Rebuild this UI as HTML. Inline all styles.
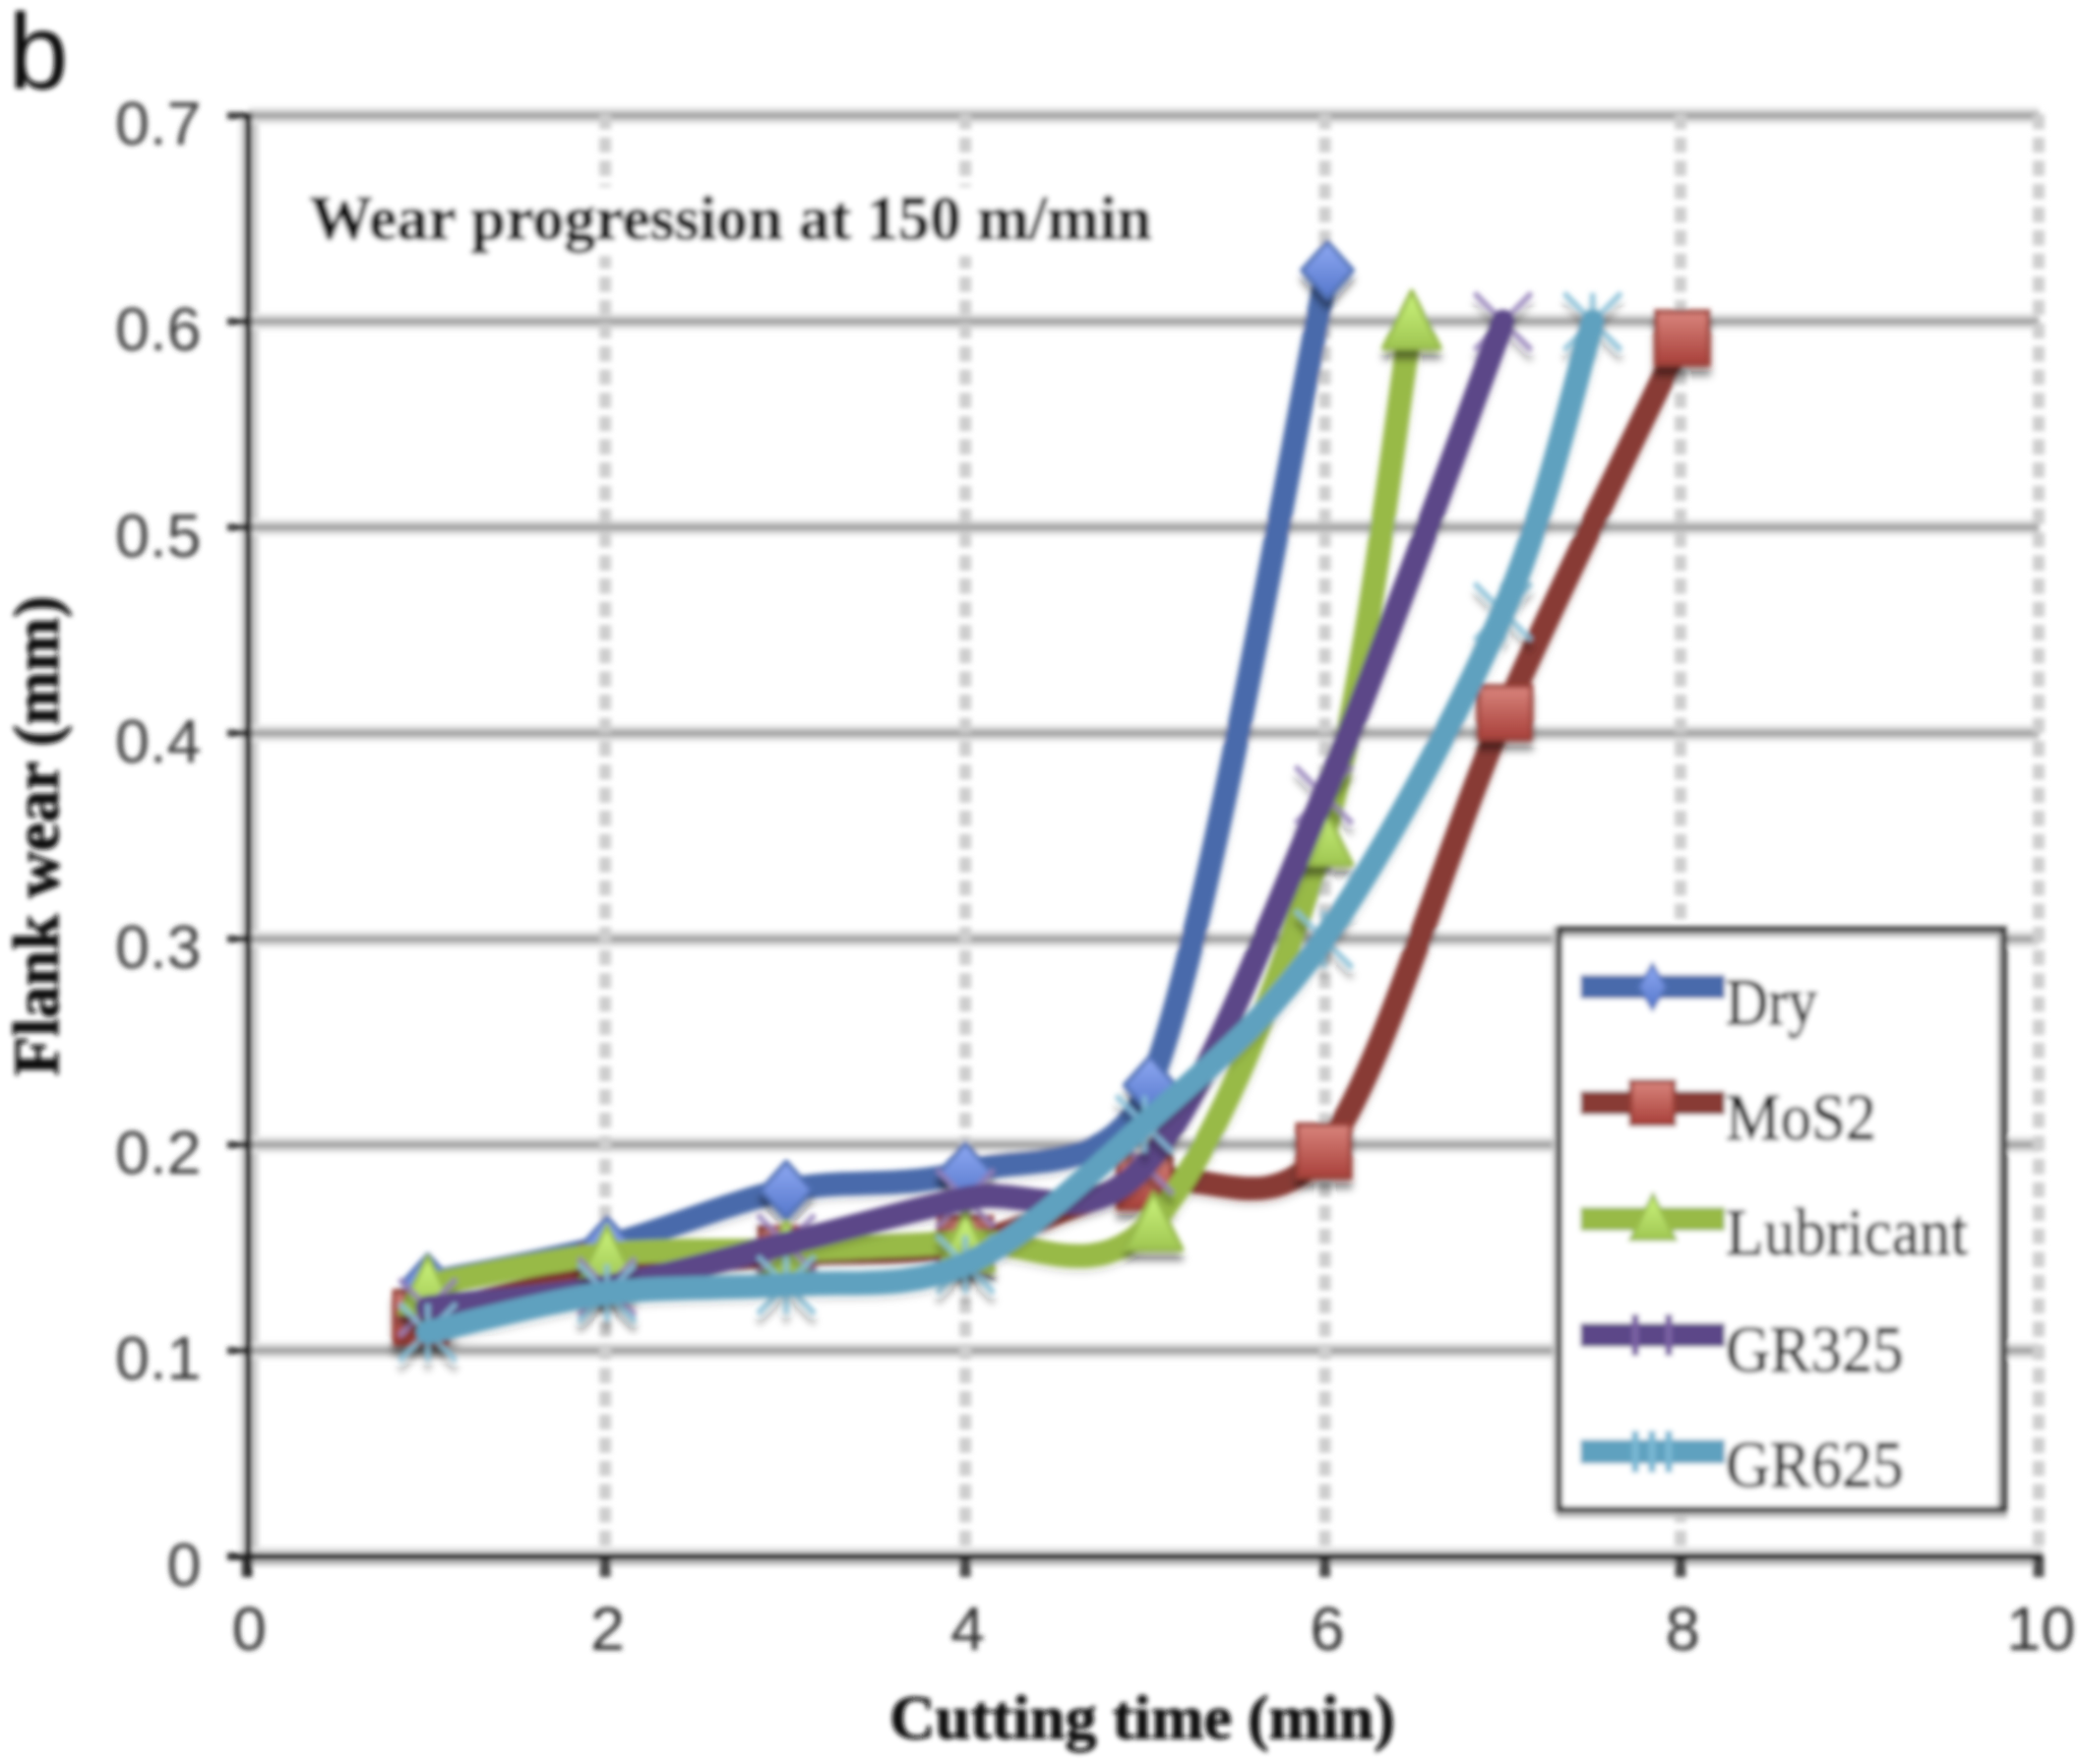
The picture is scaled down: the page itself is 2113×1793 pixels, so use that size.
<!DOCTYPE html>
<html lang="en"><head><meta charset="utf-8"><title>Wear progression at 150 m/min</title>
<style>html,body{margin:0;padding:0;background:#fff}body{width:2113px;height:1793px;overflow:hidden}svg{display:block}.ser{font-family:"Liberation Serif",serif}.san{font-family:"Liberation Sans",sans-serif}</style></head><body>
<svg width="2113" height="1793" viewBox="0 0 2113 1793">
<defs>
<linearGradient id="gD" x1="0" y1="0" x2="0" y2="1"><stop offset="0" stop-color="#8fa9f2"/><stop offset="1" stop-color="#5577cc"/></linearGradient>
<linearGradient id="gS" x1="0" y1="0" x2="0" y2="1"><stop offset="0" stop-color="#d9857d"/><stop offset="1" stop-color="#a8403a"/></linearGradient>
<linearGradient id="gT" x1="0" y1="0" x2="0" y2="1"><stop offset="0" stop-color="#cdf57e"/><stop offset="1" stop-color="#9fc652"/></linearGradient>
<filter id="shm" x="-20%" y="-20%" width="140%" height="160%"><feGaussianBlur in="SourceAlpha" stdDeviation="3"/><feOffset dx="0" dy="10" result="b"/><feComponentTransfer><feFuncA type="linear" slope="0.42"/></feComponentTransfer><feMerge><feMergeNode/><feMergeNode in="SourceGraphic"/></feMerge></filter>
<filter id="shl" x="-5%" y="-5%" width="110%" height="110%"><feGaussianBlur in="SourceAlpha" stdDeviation="3"/><feOffset dx="0" dy="5" result="b"/><feComponentTransfer><feFuncA type="linear" slope="0.16"/></feComponentTransfer><feMerge><feMergeNode/><feMergeNode in="SourceGraphic"/></feMerge></filter>
<filter id="soft" x="-2%" y="-2%" width="104%" height="104%"><feGaussianBlur stdDeviation="2.7"/></filter>
</defs>
<rect width="2113" height="1793" fill="#fff"/>
<g filter="url(#soft)">
<line x1="259.5" y1="115.6" x2="259.5" y2="1585.0" stroke="#cdcdcd" stroke-width="6"/>
<line x1="252.6" y1="1372.8" x2="2072.3" y2="1372.8" stroke="#e6e6e6" stroke-width="17"/>
<line x1="252.6" y1="1372.8" x2="2072.3" y2="1372.8" stroke="#a8a8a8" stroke-width="8"/>
<line x1="252.6" y1="1163.6" x2="2072.3" y2="1163.6" stroke="#e6e6e6" stroke-width="17"/>
<line x1="252.6" y1="1163.6" x2="2072.3" y2="1163.6" stroke="#a8a8a8" stroke-width="8"/>
<line x1="252.6" y1="954.4" x2="2072.3" y2="954.4" stroke="#e6e6e6" stroke-width="17"/>
<line x1="252.6" y1="954.4" x2="2072.3" y2="954.4" stroke="#a8a8a8" stroke-width="8"/>
<line x1="252.6" y1="745.2" x2="2072.3" y2="745.2" stroke="#e6e6e6" stroke-width="17"/>
<line x1="252.6" y1="745.2" x2="2072.3" y2="745.2" stroke="#a8a8a8" stroke-width="8"/>
<line x1="252.6" y1="536.0" x2="2072.3" y2="536.0" stroke="#e6e6e6" stroke-width="17"/>
<line x1="252.6" y1="536.0" x2="2072.3" y2="536.0" stroke="#a8a8a8" stroke-width="8"/>
<line x1="252.6" y1="326.8" x2="2072.3" y2="326.8" stroke="#e6e6e6" stroke-width="17"/>
<line x1="252.6" y1="326.8" x2="2072.3" y2="326.8" stroke="#a8a8a8" stroke-width="8"/>
<line x1="252.6" y1="117.6" x2="2072.3" y2="117.6" stroke="#e6e6e6" stroke-width="17"/>
<line x1="252.6" y1="117.6" x2="2072.3" y2="117.6" stroke="#a8a8a8" stroke-width="8"/>
<line x1="615.1" y1="116.1" x2="615.1" y2="1582.0" stroke="#cecece" stroke-width="12" stroke-dasharray="15.4 8.2"/>
<line x1="981.1" y1="116.1" x2="981.1" y2="1582.0" stroke="#cecece" stroke-width="12" stroke-dasharray="15.4 8.2"/>
<line x1="1346.6" y1="116.1" x2="1346.6" y2="1582.0" stroke="#cecece" stroke-width="12" stroke-dasharray="15.4 8.2"/>
<line x1="1708.0" y1="116.1" x2="1708.0" y2="1582.0" stroke="#cecece" stroke-width="12" stroke-dasharray="15.4 8.2"/>
<line x1="2072.0" y1="116.1" x2="2072.0" y2="1582.0" stroke="#cecece" stroke-width="12" stroke-dasharray="15.4 8.2"/>
<rect x="300" y="190" width="885" height="70" fill="#fff"/>
<text class="ser" x="314.5" y="242.8" font-size="64" font-weight="bold" fill="#111" stroke="#111" stroke-width="1" textLength="856" lengthAdjust="spacingAndGlyphs">Wear progression at 150 m/min</text>
<line x1="256.6" y1="1575.5" x2="2076.3" y2="1575.5" stroke="#e2e2e2" stroke-width="6"/>
<line x1="250.6" y1="1588.5" x2="2076.3" y2="1588.5" stroke="#c2c2c2" stroke-width="6"/>
<line x1="245.8" y1="121.6" x2="245.8" y2="1578.0" stroke="#dedede" stroke-width="5"/>
<line x1="231.0" y1="1582.0" x2="252.6" y2="1582.0" stroke="#333" stroke-width="7"/>
<line x1="231.0" y1="1372.8" x2="252.6" y2="1372.8" stroke="#333" stroke-width="7"/>
<line x1="231.0" y1="1163.6" x2="252.6" y2="1163.6" stroke="#333" stroke-width="7"/>
<line x1="231.0" y1="954.4" x2="252.6" y2="954.4" stroke="#333" stroke-width="7"/>
<line x1="231.0" y1="745.2" x2="252.6" y2="745.2" stroke="#333" stroke-width="7"/>
<line x1="231.0" y1="536.0" x2="252.6" y2="536.0" stroke="#333" stroke-width="7"/>
<line x1="231.0" y1="326.8" x2="252.6" y2="326.8" stroke="#333" stroke-width="7"/>
<line x1="231.0" y1="117.6" x2="252.6" y2="117.6" stroke="#333" stroke-width="7"/>
<line x1="251.0" y1="1582.0" x2="251.0" y2="1603.0" stroke="#4a4a4a" stroke-width="11"/>
<line x1="615.1" y1="1582.0" x2="615.1" y2="1603.0" stroke="#4a4a4a" stroke-width="11"/>
<line x1="981.1" y1="1582.0" x2="981.1" y2="1603.0" stroke="#4a4a4a" stroke-width="11"/>
<line x1="1346.6" y1="1582.0" x2="1346.6" y2="1603.0" stroke="#4a4a4a" stroke-width="11"/>
<line x1="1708.0" y1="1582.0" x2="1708.0" y2="1603.0" stroke="#4a4a4a" stroke-width="11"/>
<line x1="2072.0" y1="1582.0" x2="2072.0" y2="1603.0" stroke="#4a4a4a" stroke-width="11"/>
<line x1="231.0" y1="1582.0" x2="2076.3" y2="1582.0" stroke="#222" stroke-width="7"/>
<line x1="252.3" y1="114.1" x2="252.3" y2="1603.0" stroke="#222" stroke-width="7.2"/>
<text class="san" x="204.5" y="1611.5" font-size="63" fill="#3a3a3a" text-anchor="end">0</text>
<text class="san" x="204.5" y="1402.3" font-size="63" fill="#3a3a3a" text-anchor="end">0.1</text>
<text class="san" x="204.5" y="1193.1" font-size="63" fill="#3a3a3a" text-anchor="end">0.2</text>
<text class="san" x="204.5" y="983.9" font-size="63" fill="#3a3a3a" text-anchor="end">0.3</text>
<text class="san" x="204.5" y="774.7" font-size="63" fill="#3a3a3a" text-anchor="end">0.4</text>
<text class="san" x="204.5" y="565.5" font-size="63" fill="#3a3a3a" text-anchor="end">0.5</text>
<text class="san" x="204.5" y="356.3" font-size="63" fill="#3a3a3a" text-anchor="end">0.6</text>
<text class="san" x="204.5" y="147.1" font-size="63" fill="#3a3a3a" text-anchor="end">0.7</text>
<text class="san" x="253.3" y="1677" font-size="63" fill="#2e2e2e" text-anchor="middle">0</text>
<text class="san" x="617.4" y="1677" font-size="63" fill="#2e2e2e" text-anchor="middle">2</text>
<text class="san" x="983.4" y="1677" font-size="63" fill="#2e2e2e" text-anchor="middle">4</text>
<text class="san" x="1348.9" y="1677" font-size="63" fill="#2e2e2e" text-anchor="middle">6</text>
<text class="san" x="1710.3" y="1677" font-size="63" fill="#2e2e2e" text-anchor="middle">8</text>
<text class="san" x="2074.3" y="1677" font-size="63" fill="#2e2e2e" text-anchor="middle">10</text>
<text class="ser" x="904" y="1767" font-size="64" font-weight="bold" fill="#111" stroke="#111" stroke-width="1" textLength="514" lengthAdjust="spacingAndGlyphs">Cutting time (min)</text>
<text class="ser" transform="translate(59 1093.5) rotate(-90)" font-size="65" font-weight="bold" fill="#111" stroke="#111" stroke-width="1" textLength="488" lengthAdjust="spacingAndGlyphs">Flank wear (mm)</text>
<text class="san" x="8.5" y="89.5" font-size="110" fill="#101010">b</text>
<path filter="url(#shl)" d="M434.8 1303.8 C465.1 1297.5 556.2 1281.8 616.9 1266.1 C677.6 1250.4 738.3 1222.2 799.1 1209.6 C859.8 1197.1 919.6 1208.6 981.2 1190.8 C1042.8 1173.0 1130.2 1199.1 1168.8 1102.9 C1230.1 950.2 1319.1 412.6 1349.1 274.5" fill="none" stroke="#4a6bab" stroke-width="24" stroke-linecap="round" stroke-linejoin="round"/>
<g filter="url(#shm)">
<path d="M434.8 1274.8 L460.8 1303.8 L434.8 1332.8 L408.8 1303.8 Z" fill="url(#gD)" stroke="#4f6fb4" stroke-width="4" stroke-linejoin="round"/>
<path d="M616.9 1237.1 L642.9 1266.1 L616.9 1295.1 L590.9 1266.1 Z" fill="url(#gD)" stroke="#4f6fb4" stroke-width="4" stroke-linejoin="round"/>
<path d="M799.1 1180.6 L825.1 1209.6 L799.1 1238.6 L773.1 1209.6 Z" fill="url(#gD)" stroke="#4f6fb4" stroke-width="4" stroke-linejoin="round"/>
<path d="M981.2 1161.8 L1007.2 1190.8 L981.2 1219.8 L955.2 1190.8 Z" fill="url(#gD)" stroke="#4f6fb4" stroke-width="4" stroke-linejoin="round"/>
<path d="M1168.8 1073.9 L1194.8 1102.9 L1168.8 1131.9 L1142.8 1102.9 Z" fill="url(#gD)" stroke="#4f6fb4" stroke-width="4" stroke-linejoin="round"/>
<path d="M1349.1 245.5 L1375.1 274.5 L1349.1 303.5 L1323.1 274.5 Z" fill="url(#gD)" stroke="#4f6fb4" stroke-width="4" stroke-linejoin="round"/>
</g>
<path filter="url(#shl)" d="M427.5 1339.3 C459.0 1331.7 555.0 1304.1 616.9 1293.3 C678.8 1282.5 738.3 1279.4 799.1 1274.5 C859.8 1269.6 920.5 1276.2 981.2 1264.0 C1041.9 1251.8 1102.6 1216.9 1163.3 1201.3 C1224.1 1185.6 1289.2 1243.2 1345.5 1169.9 C1406.5 1090.4 1468.8 862.0 1529.5 724.3 C1590.2 586.6 1679.7 407.0 1709.8 343.5" fill="none" stroke="#883a34" stroke-width="24" stroke-linecap="round" stroke-linejoin="round"/>
<g filter="url(#shm)">
<rect x="400.5" y="1312.3" width="54.0" height="54.0" fill="url(#gS)" stroke="#9a3f39" stroke-width="4"/>
<rect x="589.9" y="1266.3" width="54.0" height="54.0" fill="url(#gS)" stroke="#9a3f39" stroke-width="4"/>
<rect x="772.1" y="1247.5" width="54.0" height="54.0" fill="url(#gS)" stroke="#9a3f39" stroke-width="4"/>
<rect x="954.2" y="1237.0" width="54.0" height="54.0" fill="url(#gS)" stroke="#9a3f39" stroke-width="4"/>
<rect x="1136.3" y="1174.3" width="54.0" height="54.0" fill="url(#gS)" stroke="#9a3f39" stroke-width="4"/>
<rect x="1318.5" y="1142.9" width="54.0" height="54.0" fill="url(#gS)" stroke="#9a3f39" stroke-width="4"/>
<rect x="1502.5" y="697.3" width="54.0" height="54.0" fill="url(#gS)" stroke="#9a3f39" stroke-width="4"/>
<rect x="1682.8" y="316.5" width="54.0" height="54.0" fill="url(#gS)" stroke="#9a3f39" stroke-width="4"/>
</g>
<path filter="url(#shl)" d="M434.8 1305.9 C465.1 1300.6 556.2 1280.4 616.9 1274.5 C677.6 1268.5 738.3 1272.4 799.1 1270.3 C859.8 1268.2 919.0 1266.8 981.2 1261.9 C1043.4 1257.0 1111.7 1309.7 1172.5 1241.0 C1233.2 1172.3 1301.8 1002.5 1345.5 849.8 C1389.2 697.1 1419.9 412.2 1434.8 324.7" fill="none" stroke="#98ba47" stroke-width="24" stroke-linecap="round" stroke-linejoin="round"/>
<g filter="url(#shm)">
<path d="M434.8 1276.9 L463.8 1334.9 L405.8 1334.9 Z" fill="url(#gT)" stroke="#98bb4b" stroke-width="4" stroke-linejoin="round"/>
<path d="M616.9 1245.5 L645.9 1303.5 L587.9 1303.5 Z" fill="url(#gT)" stroke="#98bb4b" stroke-width="4" stroke-linejoin="round"/>
<path d="M799.1 1241.3 L828.1 1299.3 L770.1 1299.3 Z" fill="url(#gT)" stroke="#98bb4b" stroke-width="4" stroke-linejoin="round"/>
<path d="M981.2 1232.9 L1010.2 1290.9 L952.2 1290.9 Z" fill="url(#gT)" stroke="#98bb4b" stroke-width="4" stroke-linejoin="round"/>
<path d="M1172.5 1212.0 L1201.5 1270.0 L1143.5 1270.0 Z" fill="url(#gT)" stroke="#98bb4b" stroke-width="4" stroke-linejoin="round"/>
<path d="M1345.5 820.8 L1374.5 878.8 L1316.5 878.8 Z" fill="url(#gT)" stroke="#98bb4b" stroke-width="4" stroke-linejoin="round"/>
<path d="M1434.8 295.7 L1463.8 353.7 L1405.8 353.7 Z" fill="url(#gT)" stroke="#98bb4b" stroke-width="4" stroke-linejoin="round"/>
</g>
<g filter="url(#shm)" opacity="0.85">
<path d="M405.8 1299.9 L463.8 1357.9 M405.8 1357.9 L463.8 1299.9" stroke="#9580ba" stroke-width="5.6" fill="none"/>
<path d="M587.9 1278.9 L645.9 1336.9 M587.9 1336.9 L645.9 1278.9" stroke="#9580ba" stroke-width="5.6" fill="none"/>
<path d="M770.1 1235.0 L828.1 1293.0 M770.1 1293.0 L828.1 1235.0" stroke="#9580ba" stroke-width="5.6" fill="none"/>
<path d="M952.2 1189.0 L1010.2 1247.0 M952.2 1247.0 L1010.2 1189.0" stroke="#9580ba" stroke-width="5.6" fill="none"/>
<path d="M1134.3 1155.5 L1192.3 1213.5 M1134.3 1213.5 L1192.3 1155.5" stroke="#9580ba" stroke-width="5.6" fill="none"/>
<path d="M1316.5 779.0 L1374.5 837.0 M1316.5 837.0 L1374.5 779.0" stroke="#9580ba" stroke-width="5.6" fill="none"/>
<path d="M1498.6 297.8 L1556.6 355.8 M1498.6 355.8 L1556.6 297.8" stroke="#9580ba" stroke-width="5.6" fill="none"/>
</g>
<path filter="url(#shl)" d="M434.8 1328.9 C465.1 1325.4 556.2 1318.8 616.9 1307.9 C677.6 1297.1 738.3 1279.0 799.1 1264.0 C859.8 1249.0 920.5 1231.2 981.2 1218.0 C1041.9 1204.7 1102.6 1252.9 1163.3 1184.5 C1224.1 1116.2 1284.8 950.9 1345.5 808.0 C1406.2 665.0 1497.3 407.0 1527.6 326.8" fill="none" stroke="#5c4688" stroke-width="24" stroke-linecap="round" stroke-linejoin="round"/>
<g filter="url(#shm)" opacity="0.85">
<path d="M405.8 1325.0 L463.8 1383.0 M405.8 1383.0 L463.8 1325.0 M434.8 1325.0 L434.8 1383.0" stroke="#85bfd8" stroke-width="5.6" fill="none"/>
<path d="M587.9 1285.2 L645.9 1343.2 M587.9 1343.2 L645.9 1285.2 M616.9 1285.2 L616.9 1343.2" stroke="#85bfd8" stroke-width="5.6" fill="none"/>
<path d="M770.1 1276.9 L828.1 1334.9 M770.1 1334.9 L828.1 1276.9 M799.1 1276.9 L799.1 1334.9" stroke="#85bfd8" stroke-width="5.6" fill="none"/>
<path d="M952.2 1255.9 L1010.2 1313.9 M952.2 1313.9 L1010.2 1255.9 M981.2 1255.9 L981.2 1313.9" stroke="#85bfd8" stroke-width="5.6" fill="none"/>
<path d="M1134.3 1113.7 L1192.3 1171.7 M1134.3 1171.7 L1192.3 1113.7 M1163.3 1113.7 L1163.3 1171.7" stroke="#85bfd8" stroke-width="5.6" fill="none"/>
<path d="M1316.5 925.4 L1374.5 983.4 M1316.5 983.4 L1374.5 925.4 M1345.5 925.4 L1345.5 983.4" stroke="#85bfd8" stroke-width="5.6" fill="none"/>
<path d="M1498.6 592.8 L1556.6 650.8 M1498.6 650.8 L1556.6 592.8 M1527.6 592.8 L1527.6 650.8" stroke="#85bfd8" stroke-width="5.6" fill="none"/>
<path d="M1589.7 297.8 L1647.7 355.8 M1589.7 355.8 L1647.7 297.8 M1618.7 297.8 L1618.7 355.8" stroke="#85bfd8" stroke-width="5.6" fill="none"/>
</g>
<path filter="url(#shl)" d="M434.8 1354.0 C465.1 1347.3 556.2 1322.2 616.9 1314.2 C677.6 1306.2 738.3 1310.7 799.1 1305.9 C859.8 1301.0 920.5 1312.1 981.2 1284.9 C1041.9 1257.7 1102.6 1197.8 1163.3 1142.7 C1224.1 1087.6 1284.8 1041.2 1345.5 954.4 C1406.2 867.6 1482.1 726.4 1527.6 621.8 C1573.2 517.2 1603.5 376.0 1618.7 326.8" fill="none" stroke="#5ea1bf" stroke-width="24" stroke-linecap="round" stroke-linejoin="round"/>
<rect x="1584.7" y="944.7" width="452.3" height="589.8" fill="#fff" stroke="none"/>
<path d="M1587.7 950.5 H2034.0 M1581.7 1540.3 H2040.0" fill="none" stroke="#c6c6c6" stroke-width="5.5"/>
<path d="M1579.7 941.7 V1537.5" fill="none" stroke="#d0d0d0" stroke-width="4"/>
<path d="M2032.0 947.7 V1531.5" fill="none" stroke="#b8b8b8" stroke-width="4"/>
<rect x="1584.7" y="944.7" width="452.3" height="589.8" fill="none" stroke="#383838" stroke-width="6.2"/>
<line x1="1606.5" y1="1003.0" x2="1753" y2="1003.0" stroke="#4a6bab" stroke-width="24"/>
<path d="M1679.5 980.0 L1693 1003.0 L1679.5 1026.0 L1666 1003.0 Z" fill="url(#gD)" stroke="#5878c0" stroke-width="3"/>
<text class="ser" x="1754" y="1041.0" font-size="68" fill="#0a0a0a" stroke="#0a0a0a" stroke-width="0.9" textLength="93.0" lengthAdjust="spacingAndGlyphs">Dry</text>
<line x1="1606.5" y1="1121.0" x2="1753" y2="1121.0" stroke="#883a34" stroke-width="24"/>
<rect x="1657.5" y="1099.0" width="44" height="44" fill="url(#gS)" stroke="#9a3f39" stroke-width="4"/>
<text class="ser" x="1754" y="1158.0" font-size="68" fill="#0a0a0a" stroke="#0a0a0a" stroke-width="0.9" textLength="153.0" lengthAdjust="spacingAndGlyphs">MoS2</text>
<line x1="1606.5" y1="1239.0" x2="1753" y2="1239.0" stroke="#98ba47" stroke-width="24"/>
<path d="M1680 1214.0 L1703 1260.0 L1657 1260.0 Z" fill="url(#gT)" stroke="#98bb4b" stroke-width="3"/>
<text class="ser" x="1754" y="1275.0" font-size="68" fill="#0a0a0a" stroke="#0a0a0a" stroke-width="0.9" textLength="246.0" lengthAdjust="spacingAndGlyphs">Lubricant</text>
<line x1="1606.5" y1="1357.0" x2="1753" y2="1357.0" stroke="#5c4688" stroke-width="24"/>
<path d="M1662 1336.0 L1662 1378.0 M1696 1336.0 L1696 1378.0" stroke="#7a62a3" stroke-width="7" fill="none"/>
<text class="ser" x="1754" y="1394.0" font-size="68" fill="#0a0a0a" stroke="#0a0a0a" stroke-width="0.9" textLength="180.5" lengthAdjust="spacingAndGlyphs">GR325</text>
<line x1="1606.5" y1="1475.4" x2="1753" y2="1475.4" stroke="#5ea1bf" stroke-width="24"/>
<path d="M1662 1454.4 L1662 1496.4 M1679 1454.4 L1679 1496.4 M1696 1454.4 L1696 1496.4" stroke="#79b7d3" stroke-width="7" fill="none"/>
<text class="ser" x="1754" y="1511.0" font-size="68" fill="#0a0a0a" stroke="#0a0a0a" stroke-width="0.9" textLength="180.5" lengthAdjust="spacingAndGlyphs">GR625</text>
</g>
</svg></body></html>
